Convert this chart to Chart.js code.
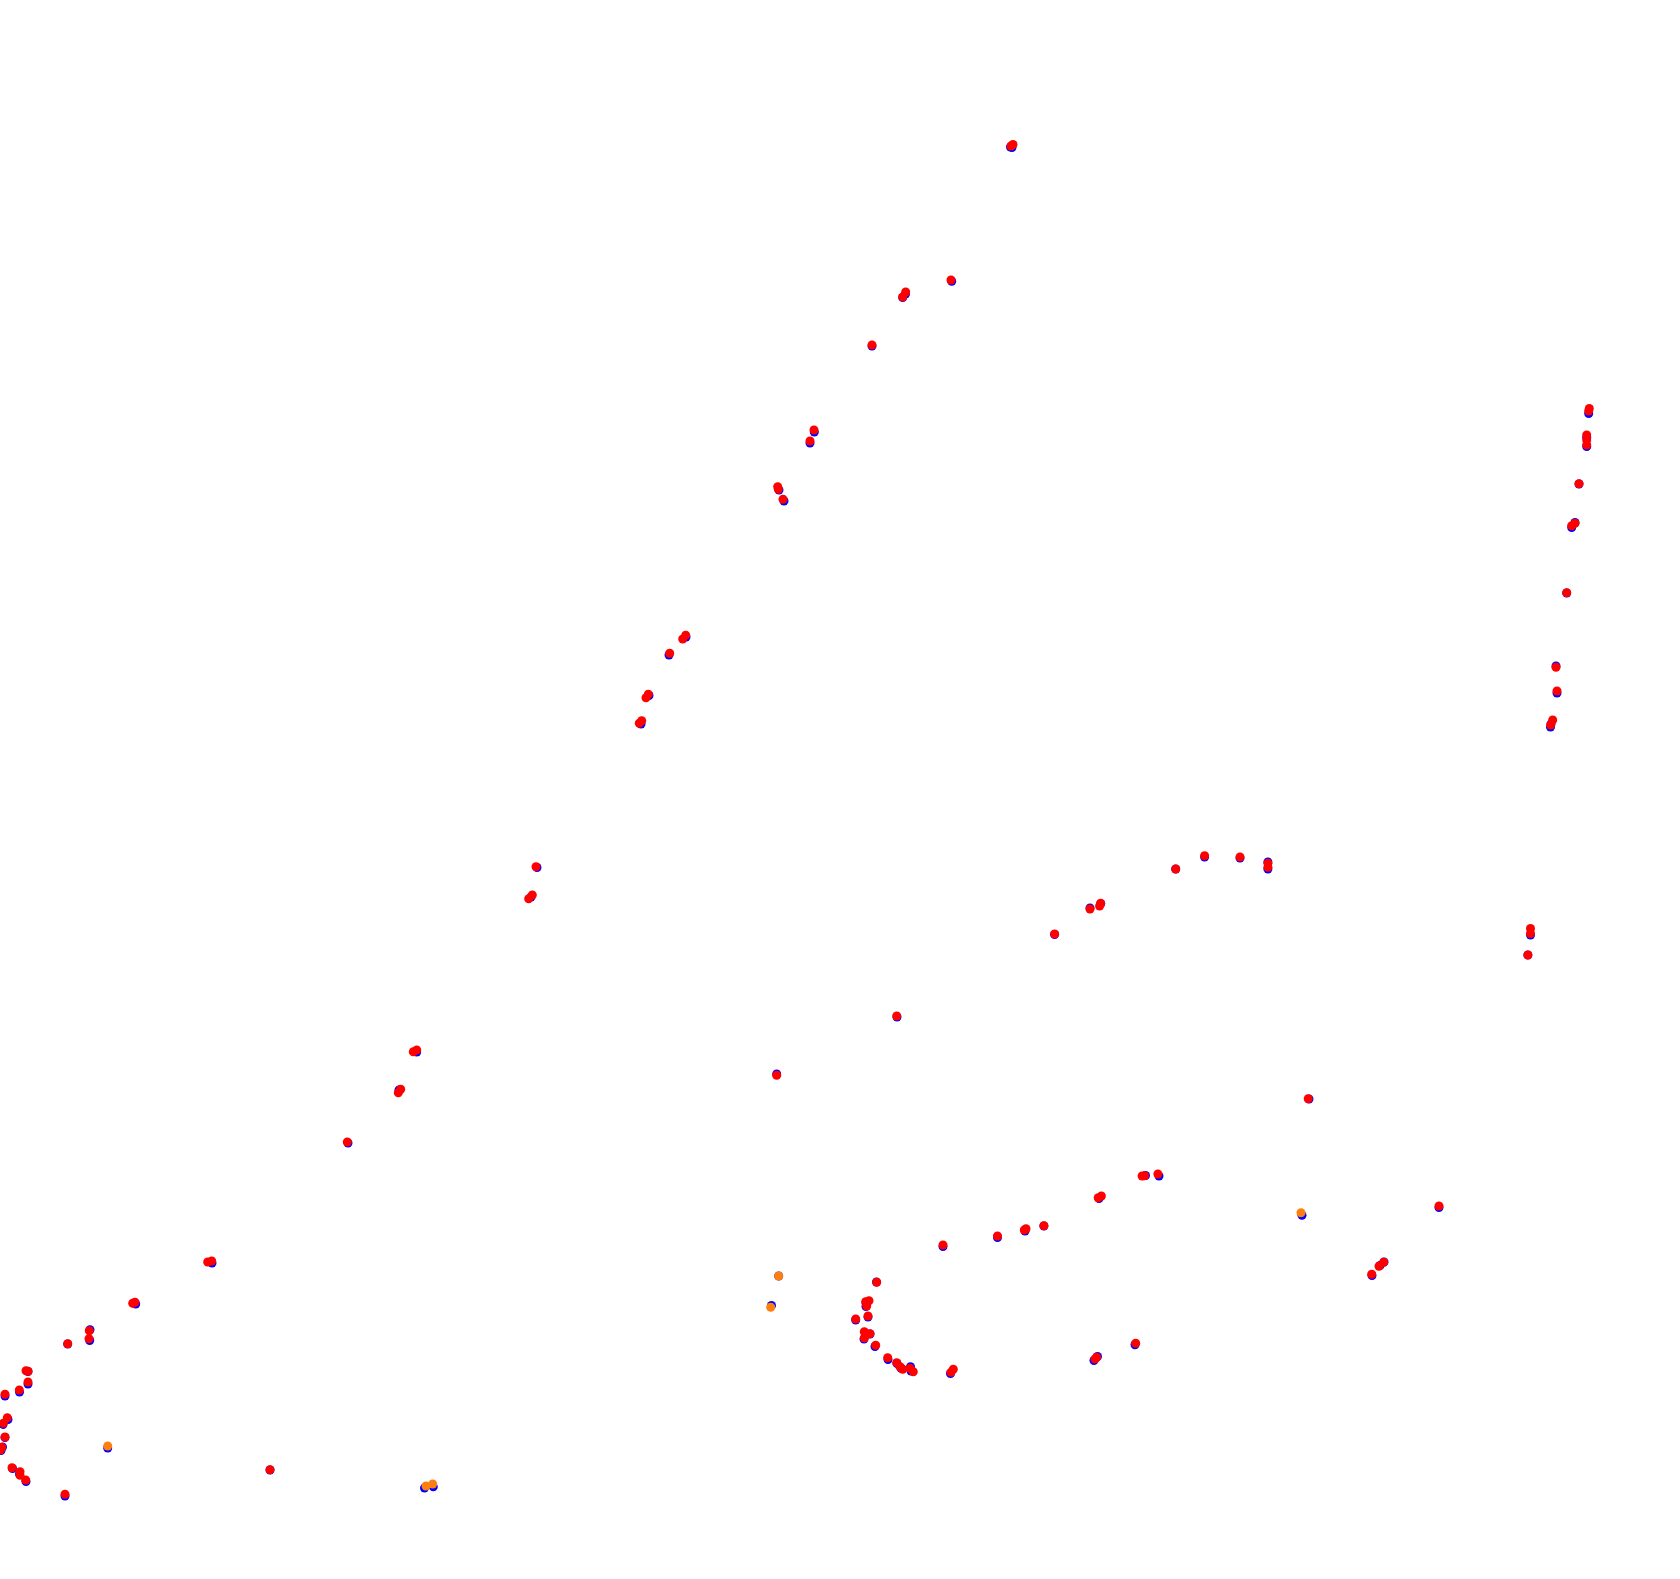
<!DOCTYPE html>
<html>
<head>
<meta charset="utf-8">
<script src="https://cdn.jsdelivr.net/npm/chart.js@4/dist/chart.umd.min.js"></script>
<style>
    html, body { margin: 0; padding: 0; background: #ffffff; }
    #track-chart { display: block; }
</style>
</head>
<body>
<canvas id="track-chart" width="1680" height="1579"></canvas>
<script>
// positions, [x, y] with y growing downwards
const redPoints = [
    [1013, 144.5], [1011, 146], [951, 280], [905.7, 292], [902.7, 297], [872, 345],
    [814, 430], [810, 441], [777.7, 486.7], [778.3, 489.3], [783, 499.3],
    [685.7, 635.3], [682.7, 639], [669.7, 653.3], [648.3, 694.3], [646, 697.7],
    [641.7, 720.7], [639.3, 723.3], [536, 866.7], [532.3, 895], [528.7, 898.7],
    [416.7, 1050], [413.3, 1051.7], [400.7, 1089.3], [398.3, 1092.7], [347.3, 1142],
    [211.7, 1261], [207.7, 1262], [135, 1302.3], [132.7, 1303.3], [89.3, 1330.7],
    [89, 1338.7], [67.7, 1343.7], [26, 1370.7], [28, 1371.3], [28, 1382], [19.3, 1390],
    [5, 1394.3], [7.3, 1417.7], [3.3, 1423.3], [5, 1437], [1.7, 1447.3], [0.3, 1450],
    [12, 1467.7], [20, 1471.7], [20, 1475.3], [25.7, 1480], [65, 1494.3], [270, 1469.7],
    [896.7, 1016], [776.7, 1075.3],
    [943, 1245], [876.7, 1282.3], [869, 1300.7], [865.7, 1301.7], [866.7, 1306],
    [868, 1316], [855.7, 1319], [864.3, 1331.7], [870, 1333.7], [864.3, 1338],
    [875.7, 1345.3], [887.7, 1357.7], [896.7, 1362.7], [900, 1366.7], [902.7, 1369.3],
    [910, 1368.3], [913.3, 1371.7], [953.3, 1369.3], [951, 1372.3],
    [1096.7, 1357.3], [1095, 1359], [1135.7, 1343.3],
    [997.5, 1236], [1026, 1228.7], [1024.3, 1230], [1043.9, 1225.7],
    [1101.4, 1196], [1098.2, 1197.7], [1144.6, 1175.7], [1142.1, 1176], [1157.9, 1174],
    [1308.2, 1098.7], [1439, 1206], [1383.7, 1262.3], [1379, 1266.3], [1371.7, 1274.3],
    [1054.6, 934], [1090, 909], [1100.7, 903.3], [1099.6, 906], [1175.7, 869],
    [1204.6, 855.7], [1240, 857], [1267.9, 863.3], [1267.9, 867.3],
    [1530.5, 928.5], [1530.5, 933.5], [1527.9, 955],
    [1589.3, 408.5], [1588.7, 411], [1586.7, 435], [1586.7, 440], [1586.7, 445],
    [1579, 483.7], [1575, 523.3], [1571.7, 525.7], [1566.7, 592.7], [1556, 667.3],
    [1557, 691], [1552.7, 720], [1550.7, 725]
];

const orangePoints = [
    [107.7, 1446], [426, 1486], [432.7, 1484], [778.7, 1276], [770.7, 1307.3], [1301, 1212.7]
];

const bluePoints = [
    [1012, 147.5], [1010.5, 147], [951.7, 281.3], [905.5, 294], [902.7, 297.5], [872, 346],
    [814.3, 432], [810, 443], [779, 490], [784, 501],
    [686, 637], [669, 655], [649, 695.5], [641, 724],
    [537, 867.5], [531, 897], [416.7, 1052], [399, 1090], [348, 1143],
    [212, 1263], [135.7, 1304], [90, 1329.7], [89.7, 1340.5], [67.7, 1344],
    [28, 1371.5], [28, 1384], [19.5, 1392], [5, 1396], [8, 1419.5], [3, 1424.5],
    [5, 1437.5], [2.5, 1447], [1, 1450.5], [12.5, 1468.5], [19.5, 1474], [26, 1481.5],
    [65, 1496], [270, 1470], [107.7, 1448], [424.5, 1488], [433.3, 1486.8],
    [897, 1017], [776.7, 1074], [771.5, 1305.5], [778.7, 1276],
    [943, 1246.5], [876.5, 1282], [866, 1303], [866, 1306.5], [868, 1317], [855.7, 1320],
    [864, 1339], [870, 1334], [875, 1346.5], [888, 1359.5], [897, 1363.5], [901, 1368],
    [910.5, 1366.7], [911, 1371], [950.5, 1373.5], [1097.5, 1356.5], [1094, 1360.5],
    [1135, 1344.7],
    [997.5, 1237.5], [1025, 1231], [1043.9, 1226], [1099, 1198.5], [1145.5, 1175.5],
    [1159, 1176], [1309, 1099], [1302, 1215.3], [1439, 1207.5], [1384, 1262],
    [1380, 1265.5], [1372, 1275.5],
    [1054.6, 934.5], [1090, 908], [1100.7, 903.7], [1175.7, 869], [1204.6, 857],
    [1240, 858], [1267.9, 862], [1267.9, 869], [1530.5, 935], [1527.9, 955],
    [1588.7, 413.5], [1586.7, 437.5], [1586.7, 446.5], [1579, 484], [1575, 522.5],
    [1571.7, 527.5], [1566.7, 593], [1556, 666], [1557, 693], [1551, 724], [1550.5, 727]
];

const toXY = (list) => list.map(([x, y]) => ({ x, y }));

const pointStyle = (color, order) => ({
    backgroundColor: color,
    borderWidth: 0,
    pointRadius: 4.5,
    pointHoverRadius: 4.5,
    order
});

const ctx = document.getElementById("track-chart").getContext("2d");

new Chart(ctx, {
    type: "scatter",
    data: {
        datasets: [
            { label: "red", data: toXY(redPoints), ...pointStyle("#ff0000", 1) },
            { label: "orange", data: toXY(orangePoints), ...pointStyle("#ff7f0e", 2) },
            { label: "blue", data: toXY(bluePoints), ...pointStyle("#0000ff", 3) }
        ]
    },
    options: {
        responsive: false,
        animation: false,
        layout: { padding: 0, autoPadding: false }, // keep the plot flush with the canvas
        plugins: {
            legend: { display: false },
            tooltip: { enabled: false }
        },
        scales: {
            x: { type: "linear", min: 0, max: 1680, display: false },
            y: { type: "linear", min: 0, max: 1579, reverse: true, display: false }
        }
    }
});
</script>
</body>
</html>
